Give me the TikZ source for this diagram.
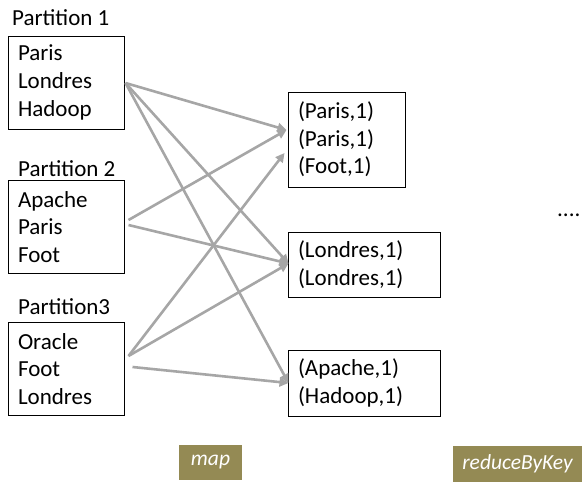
\documentclass[tikz,border=0pt]{standalone}
\usepackage{fontspec}
\setmainfont{Carlito}
\usetikzlibrary{arrows.meta,calc}
\definecolor{olive}{HTML}{948A54}
\definecolor{flow}{HTML}{A6A6A6}
\tikzset{
  part/.style={draw=black, line width=1pt, rectangle, minimum width=116pt, minimum height=93pt,
    text width=96pt, inner xsep=10pt, align=left, font=\fontsize{23}{27.6}\selectfont},
  pairbox/.style={draw=black, line width=1pt, rectangle, inner xsep=10pt, align=left,
    font=\fontsize{23}{27.6}\selectfont},
  caption/.style={anchor=base west, inner sep=0pt, font=\fontsize{23}{26}\selectfont},
  stage/.style={fill=olive, text=white, inner sep=0pt, font=\fontsize{21.5}{24}\itshape},
  link/.style={draw=flow, line width=2.6pt, -{Triangle[length=9pt,width=9pt]}}
}
\begin{document}
\begin{tikzpicture}[x=1pt,y=-1pt]
\useasboundingbox (0,0) rectangle (582,482);

% input partitions
\node[caption] (c1) at (12,25) {Partition 1};
\node[part] (p1) at (66,82.5) {Paris\\Londres\\Hadoop};
\node[caption] (c2) at (18,176) {Partition 2};
\node[part] (p2) at (66,227) {Apache\\Paris\\Foot};
\node[caption] (c3) at (18,314) {Partition3};
\node[part] (p3) at (66,369) {Oracle\\Foot\\Londres};

% mapped pairs
\node[pairbox, minimum width=117pt, minimum height=95pt, text width=97pt] (r1) at (346.5,139.5) {(Paris,1)\\(Paris,1)\\(Foot,1)};
\node[pairbox, minimum width=152pt, minimum height=65pt, text width=132pt] (r2) at (364,264.5) {(Londres,1)\\(Londres,1)};
\node[pairbox, minimum width=152pt, minimum height=66pt, text width=132pt] (r3) at (364,383) {(Apache,1)\\(Hadoop,1)};

\node[caption] (more) at (557,216) {....};

% stage labels
\node[stage, minimum width=63pt, minimum height=35pt] (map) at (210.5,462.5) {map};
\node[stage, minimum width=129pt, minimum height=36pt] (rbk) at (517.5,464) {reduceByKey};

% connector end points
\coordinate (s1) at ($(p1.east)+(1,0.5)$);
\coordinate (s2a) at ($(p2.east)+(4,-7)$);
\coordinate (s2b) at ($(p2.east)+(4,-2)$);
\coordinate (s3a) at ($(p3.east)+(4,-13)$);
\coordinate (s3b) at ($(p3.east)+(8,-2)$);
\coordinate (t1a) at ($(r1.west)+(-1,-9.5)$);
\coordinate (t1b) at ($(r1.west)+(-3,13.5)$);
\coordinate (t2) at ($(r2.west)+(1,-1)$);
\coordinate (t3) at ($(r3.west)+(1,0)$);

\draw[link] (s1) -- (t1a);
\draw[link] (s1) -- (t2);
\draw[link] (s1) -- (t3);
\draw[link] (s2a) -- (t1a);
\draw[link] (s2b) -- (t2);
\draw[link] (s3a) -- (t1b);
\draw[link] (s3a) -- (t2);
\draw[link] (s3b) -- (t3);
\end{tikzpicture}
\end{document}
